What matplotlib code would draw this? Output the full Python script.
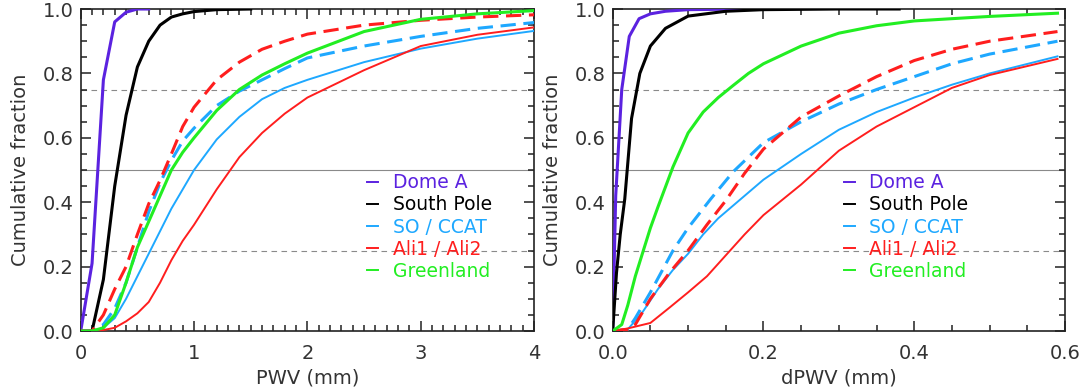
import numpy as np
import matplotlib.pyplot as plt
from matplotlib.ticker import MultipleLocator

# --- data ------------------------------------------------------------------
# Left panel: cumulative fraction vs PWV (mm)
pwv_dome_x = [0.0, 0.1, 0.2, 0.3, 0.4, 0.5, 0.6]
pwv_dome_y = [0.0, 0.21, 0.78, 0.96, 0.99, 1.0, 1.0]

pwv_pole_x = [0.0, 0.1, 0.2, 0.3, 0.4, 0.5, 0.6, 0.7, 0.8, 0.9, 1.0, 1.2, 1.5]
pwv_pole_y = [0.0, 0.0, 0.16, 0.45, 0.67, 0.82, 0.9, 0.95, 0.975, 0.985, 0.992, 0.998, 1.0]

pwv_so_x = [0.0, 0.1, 0.2, 0.3, 0.4, 0.5, 0.6, 0.7, 0.8, 0.9, 1.0, 1.2, 1.4, 1.6, 1.8, 2.0, 2.5, 3.0, 3.5, 4.0]
pwv_so_y = [0.0, 0.0, 0.01, 0.04, 0.1, 0.17, 0.24, 0.31, 0.38, 0.44, 0.5, 0.595, 0.665, 0.72, 0.755, 0.78, 0.835, 0.877, 0.908, 0.932]
pwv_ccat_x = [0.0, 0.1, 0.2, 0.3, 0.4, 0.5, 0.6, 0.7, 0.8, 0.9, 1.0, 1.2, 1.4, 1.6, 1.8, 2.0, 2.5, 3.0, 3.5, 4.0]
pwv_ccat_y = [0.0, 0.0, 0.02, 0.07, 0.15, 0.26, 0.37, 0.46, 0.53, 0.59, 0.63, 0.7, 0.745, 0.78, 0.815, 0.848, 0.885, 0.915, 0.94, 0.958]

pwv_ali1_x = [0.0, 0.1, 0.2, 0.3, 0.4, 0.5, 0.6, 0.7, 0.8, 0.9, 1.0, 1.2, 1.4, 1.6, 1.8, 2.0, 2.5, 3.0, 3.5, 4.0]
pwv_ali1_y = [0.0, 0.0, 0.003, 0.01, 0.03, 0.055, 0.09, 0.15, 0.22, 0.28, 0.33, 0.44, 0.54, 0.615, 0.675, 0.725, 0.81, 0.885, 0.92, 0.943]
pwv_ali2_x = [0.0, 0.1, 0.2, 0.3, 0.4, 0.5, 0.6, 0.7, 0.8, 0.9, 1.0, 1.2, 1.4, 1.6, 1.8, 2.0, 2.5, 3.0, 3.5, 4.0]
pwv_ali2_y = [0.0, 0.0, 0.05, 0.13, 0.2, 0.3, 0.395, 0.468, 0.55, 0.635, 0.695, 0.78, 0.835, 0.875, 0.9, 0.922, 0.95, 0.965, 0.975, 0.982]

pwv_green_x = [0.0, 0.1, 0.2, 0.3, 0.4, 0.5, 0.6, 0.7, 0.8, 0.9, 1.0, 1.2, 1.4, 1.6, 1.8, 2.0, 2.5, 3.0, 3.5, 4.0]
pwv_green_y = [0.0, 0.0, 0.01, 0.05, 0.15, 0.26, 0.34, 0.42, 0.5, 0.555, 0.6, 0.685, 0.75, 0.795, 0.83, 0.863, 0.93, 0.968, 0.985, 0.995]

# Right panel: cumulative fraction vs dPWV (mm)
dpwv_dome_x = [0.0, 0.004, 0.012, 0.022, 0.035, 0.05, 0.07, 0.1, 0.175]
dpwv_dome_y = [0.0, 0.42, 0.75, 0.915, 0.97, 0.985, 0.993, 0.998, 1.0]

dpwv_pole_x = [0.0, 0.005, 0.01, 0.016, 0.025, 0.036, 0.05, 0.07, 0.1, 0.15, 0.2, 0.3, 0.38]
dpwv_pole_y = [0.0, 0.18, 0.3, 0.41, 0.66, 0.8, 0.885, 0.94, 0.978, 0.993, 0.998, 1.0, 1.0]

dpwv_so_x = [0.0, 0.02, 0.04, 0.06, 0.08, 0.1, 0.12, 0.14, 0.17, 0.2, 0.25, 0.3, 0.35, 0.4, 0.45, 0.5, 0.59]
dpwv_so_y = [0.0, 0.005, 0.06, 0.13, 0.19, 0.24, 0.3, 0.35, 0.41, 0.47, 0.55, 0.625, 0.68, 0.725, 0.765, 0.8, 0.853]
dpwv_ccat_x = [0.0, 0.02, 0.03, 0.05, 0.08, 0.1, 0.13, 0.16, 0.2, 0.25, 0.3, 0.35, 0.4, 0.45, 0.5, 0.59]
dpwv_ccat_y = [0.0, 0.005, 0.04, 0.12, 0.25, 0.32, 0.41, 0.495, 0.585, 0.65, 0.705, 0.75, 0.79, 0.83, 0.86, 0.9]

dpwv_ali1_x = [0.0, 0.02, 0.05, 0.075, 0.1, 0.125, 0.15, 0.175, 0.2, 0.25, 0.3, 0.35, 0.4, 0.45, 0.5, 0.59]
dpwv_ali1_y = [0.0, 0.008, 0.025, 0.072, 0.12, 0.17, 0.235, 0.3, 0.36, 0.455, 0.56, 0.635, 0.695, 0.755, 0.795, 0.845]
dpwv_ali2_x = [0.0, 0.02, 0.03, 0.05, 0.075, 0.1, 0.125, 0.15, 0.175, 0.2, 0.25, 0.3, 0.35, 0.4, 0.45, 0.5, 0.59]
dpwv_ali2_y = [0.0, 0.005, 0.02, 0.1, 0.18, 0.25, 0.33, 0.405, 0.49, 0.565, 0.665, 0.73, 0.79, 0.84, 0.875, 0.9, 0.93]

dpwv_green_x = [0.0, 0.012, 0.02, 0.03, 0.04, 0.05, 0.06, 0.08, 0.1, 0.12, 0.14, 0.16, 0.18, 0.2, 0.25, 0.3, 0.35, 0.4, 0.5, 0.59]
dpwv_green_y = [0.0, 0.02, 0.08, 0.17, 0.245, 0.32, 0.385, 0.51, 0.615, 0.68, 0.725, 0.763, 0.8, 0.83, 0.885, 0.925, 0.948, 0.963, 0.977, 0.987]

site_labels = ['Dome A', 'South Pole', 'SO / CCAT', 'Ali1 / Ali2', 'Greenland']
quartiles = [0.25, 0.5, 0.75]

PURPLE = '#5b22e0'
BLUE = '#1ea8ff'
RED = '#ff1e1e'
GREEN = '#22ee22'
TEXT = '#333333'

plt.rcParams['font.family'] = 'DejaVu Sans'

fig = plt.figure(figsize=(10.85, 3.92), dpi=100)
ax1 = fig.add_axes([0.0744, 0.1556, 0.4178, 0.8214])
ax2 = fig.add_axes([0.5647, 0.1556, 0.4169, 0.8214])


def draw_panel(ax, data, xmax, xmajor, xminor, xlabel, xfmt, legend_x):
    dome, pole, so, ccat, ali1, ali2, green = data

    # quartile reference lines
    for q in quartiles:
        ls = '-' if q == 0.5 else (0, (5, 4))
        ax.axhline(q, color='#8a8a8a', linewidth=0.8, linestyle=ls, zorder=1)

    ax.plot(*dome, color=PURPLE, linewidth=2.2, label=site_labels[0], zorder=3)
    ax.plot(*pole, color='black', linewidth=2.2, label=site_labels[1], zorder=3)
    ax.plot(*so, color=BLUE, linewidth=1.4, label=site_labels[2], zorder=3)
    ax.plot(*ccat, color=BLUE, linewidth=2.2, linestyle=(0, (5, 2.5)), zorder=3)
    ax.plot(*ali1, color=RED, linewidth=1.4, label=site_labels[3], zorder=3)
    ax.plot(*ali2, color=RED, linewidth=2.2, linestyle=(0, (5, 2.5)), zorder=3)
    ax.plot(*green, color=GREEN, linewidth=2.2, label=site_labels[4], zorder=3)

    ax.set_xlim(0, xmax)
    ax.set_ylim(0, 1.0)
    ax.xaxis.set_major_locator(MultipleLocator(xmajor))
    ax.xaxis.set_minor_locator(MultipleLocator(xminor))
    ax.yaxis.set_major_locator(MultipleLocator(0.2))
    ax.yaxis.set_minor_locator(MultipleLocator(0.05))
    ax.xaxis.set_major_formatter(xfmt)
    ax.yaxis.set_major_formatter('{x:.1f}')

    ax.tick_params(which='both', direction='in', top=True, right=True,
                   colors='#222222', width=1.1, labelcolor=TEXT, labelsize=14)
    ax.tick_params(which='major', length=7)
    ax.tick_params(which='minor', length=4)
    ax.tick_params(axis='x', pad=9)
    ax.tick_params(axis='y', pad=5)
    for sp in ax.spines.values():
        sp.set_color('#222222')
        sp.set_linewidth(1.2)

    ax.set_xlabel(xlabel, fontsize=14, color=TEXT, labelpad=4)
    ax.set_ylabel('Cumulative fraction', fontsize=14, color=TEXT, labelpad=9)

    leg = ax.legend(loc='upper left', bbox_to_anchor=(legend_x, 0.49),
                    frameon=False, fontsize=13.5, handlelength=0.6,
                    handletextpad=0.75, labelspacing=0.17, borderpad=0,
                    borderaxespad=0, labelcolor='linecolor')
    for h in leg.get_lines():
        h.set_linewidth(1.4)


draw_panel(ax1,
           [(pwv_dome_x, pwv_dome_y), (pwv_pole_x, pwv_pole_y),
            (pwv_so_x, pwv_so_y), (pwv_ccat_x, pwv_ccat_y),
            (pwv_ali1_x, pwv_ali1_y), (pwv_ali2_x, pwv_ali2_y),
            (pwv_green_x, pwv_green_y)],
           4, 1, 0.1, 'PWV (mm)', '{x:.0f}', 0.632)

draw_panel(ax2,
           [(dpwv_dome_x, dpwv_dome_y), (dpwv_pole_x, dpwv_pole_y),
            (dpwv_so_x, dpwv_so_y), (dpwv_ccat_x, dpwv_ccat_y),
            (dpwv_ali1_x, dpwv_ali1_y), (dpwv_ali2_x, dpwv_ali2_y),
            (dpwv_green_x, dpwv_green_y)],
           0.6, 0.2, 0.05, 'dPWV (mm)', '{x:.1f}', 0.511)

plt.savefig('out.png', dpi=100)
